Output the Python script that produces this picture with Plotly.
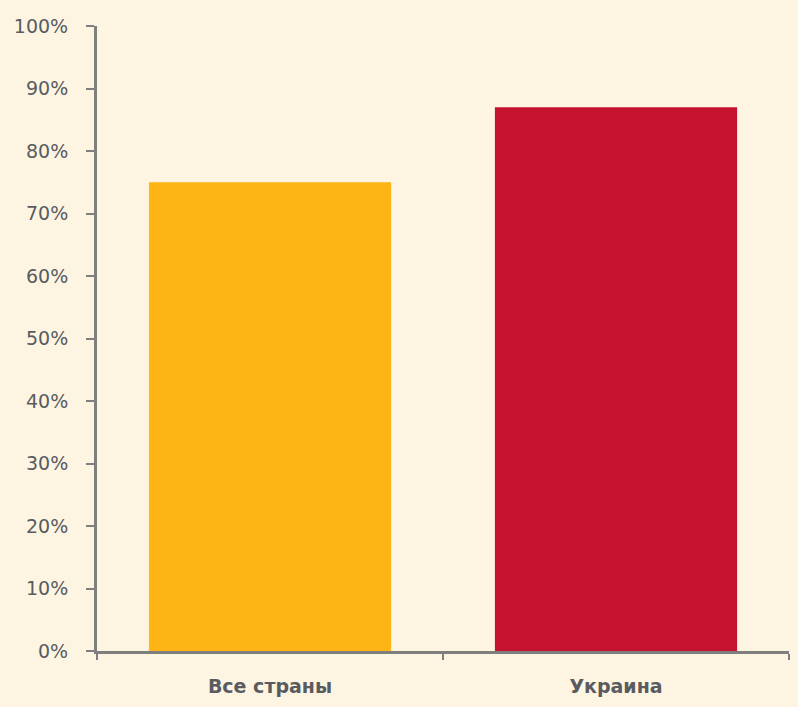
import plotly.graph_objects as go

categories = ["Все страны", "Украина"]
values = [0.75, 0.87]
colors = ["#FDB515", "#C5122F"]

fig = go.Figure()
fig.add_trace(go.Bar(
    x=categories, y=values,
    marker=dict(color=colors, line=dict(width=0)),
    width=0.7,
))

axis_color = "#7F7F7F"
label_color = "#595B60"
bg = "#FDF5E2"
fig.update_layout(
    width=798, height=707,
    margin=dict(l=97, r=9, t=26, b=56),
    paper_bgcolor=bg,
    plot_bgcolor=bg,
    showlegend=False,
    font=dict(family="DejaVu Sans", color=label_color, size=19),
    xaxis=dict(
        showline=True, linecolor=axis_color, linewidth=3,
        ticks="outside", tickson="boundaries", ticklen=6, tickcolor=axis_color, tickwidth=2,
        tickfont=dict(family="DejaVu Sans", size=19, color=label_color, weight="bold"),
        ticklabelstandoff=16,
        showgrid=False, zeroline=False,
    ),
    yaxis=dict(
        range=[0, 1], dtick=0.1, tickformat=".0%",
        showline=True, linecolor=axis_color, linewidth=3,
        ticks="outside", ticklen=8, tickcolor=axis_color, tickwidth=2,
        tickfont=dict(family="DejaVu Sans", size=19, color=label_color),
        ticklabelstandoff=14,
        showgrid=False, zeroline=False,
    ),
)

fig.write_html(
    "out.html",
    config={"displayModeBar": False},
    post_script="document.body.style.margin='0';document.body.style.background='%s';" % bg,
)
